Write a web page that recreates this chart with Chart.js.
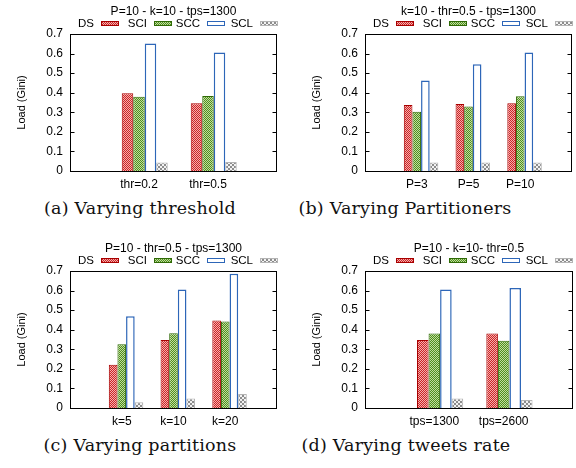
<!DOCTYPE html>
<html><head><meta charset="utf-8">
<script src="https://cdn.jsdelivr.net/npm/chart.js@4.4.0/dist/chart.umd.min.js"></script>
<style>
html,body{margin:0;padding:0;background:#fff;width:576px;height:468px;overflow:hidden;position:relative;}
canvas{position:absolute;}
.cap{position:absolute;font-family:"DejaVu Serif";font-size:17.5px;letter-spacing:0.2px;color:#111;white-space:nowrap;transform:translate(-50%,-50%);}
</style></head><body>
<canvas id="ca" width="288" height="195" style="left:0;top:0"></canvas>
<canvas id="cb" width="288" height="195" style="left:288px;top:0"></canvas>
<canvas id="cc" width="288" height="195" style="left:0;top:237px"></canvas>
<canvas id="cd" width="288" height="195" style="left:288px;top:237px"></canvas>
<div class="cap" style="left:140px;top:208px">(a) Varying threshold</div>
<div class="cap" style="left:405px;top:208px">(b) Varying Partitioners</div>
<div class="cap" style="left:140px;top:445px">(c) Varying partitions</div>
<div class="cap" style="left:406px;top:445px">(d) Varying tweets rate</div>
<script>
// ---- data ----
const legendLabels = ['DS', 'SCI', 'SCC', 'SCL'];
const yTickValues = [0, 0.1, 0.2, 0.3, 0.4, 0.5, 0.6, 0.7];

const titleA = 'P=10 - k=10 - tps=1300';
const categoriesA = ['thr=0.2', 'thr=0.5'];
const dsA  = [0.397, 0.346];
const sciA = [0.380, 0.383];
const sccA = [0.652, 0.606];
const sclA = [0.044, 0.046];

const titleB = 'k=10 - thr=0.5 - tps=1300';
const categoriesB = ['P=3', 'P=5', 'P=10'];
const dsB  = [0.337, 0.342, 0.346];
const sciB = [0.303, 0.329, 0.382];
const sccB = [0.462, 0.545, 0.606];
const sclB = [0.043, 0.044, 0.044];

const titleC = 'P=10 - thr=0.5 - tps=1300';
const categoriesC = ['k=5', 'k=10', 'k=20'];
const dsC  = [0.221, 0.347, 0.447];
const sciC = [0.326, 0.382, 0.442];
const sccC = [0.469, 0.605, 0.686];
const sclC = [0.029, 0.048, 0.071];

const titleD = 'P=10 - k=10- thr=0.5';
const categoriesD = ['tps=1300', 'tps=2600'];
const dsD  = [0.347, 0.381];
const sciD = [0.381, 0.343];
const sccD = [0.605, 0.613];
const sclD = [0.048, 0.041];

// ---- styles ----
Chart.defaults.color = '#000';
Chart.defaults.font.family = '"Liberation Sans", Arial, sans-serif';

function checker(c1, c2, cell) {
  const cv = document.createElement('canvas');
  cv.width = cv.height = cell * 2;
  const g = cv.getContext('2d');
  g.fillStyle = c2; g.fillRect(0, 0, cell * 2, cell * 2);
  g.fillStyle = c1; g.fillRect(0, 0, cell, cell); g.fillRect(cell, cell, cell, cell);
  return g.createPattern(cv, 'repeat');
}
const redFill = checker('#cc2424', '#f4aeae', 1);
const greenFill = checker('#4f8f1c', '#c0dca0', 1);
const grayFill = checker('#8c8c8c', '#f2f2f2', 2);

const seriesStyles = [
  {bg: redFill, border: '#a80000', bw: 1},
  {bg: greenFill, border: '#2f6a06', bw: 1},
  {bg: '#ffffff', border: '#2d66b8', bw: 1.5},
  {bg: grayFill, border: '#b4b4b4', bw: 1}
];

const deco = {
  id: 'deco',
  afterDraw(chart, args, opts) {
    const ctx = chart.ctx;
    const {left, right, top, bottom} = chart.chartArea;
    const y = chart.scales.y;
    ctx.save();
    ctx.strokeStyle = '#000';
    ctx.lineWidth = 1;
    ctx.beginPath();
    const L = Math.round(left) + 0.5, R = Math.round(right) - 0.5;
    y.ticks.forEach(t => {
      const py = Math.round(y.getPixelForValue(t.value)) + 0.5;
      ctx.moveTo(L, py); ctx.lineTo(L + 4, py);
      ctx.moveTo(R, py); ctx.lineTo(R - 4, py);
    });
    ctx.stroke();
    ctx.strokeRect(L, Math.round(top) + 0.5, R - L, Math.round(bottom) - Math.round(top));
    ctx.fillStyle = '#000';
    ctx.textBaseline = 'middle';
    ctx.textAlign = 'center';
    ctx.font = '12px "Liberation Sans", Arial, sans-serif';
    ctx.fillText(opts.title, (left + right) / 2, 12);
    // legend
    ctx.font = '11.5px "Liberation Sans", Arial, sans-serif';
    for (let i = 0; i < legendLabels.length; i++) {
      const tx = left + 24 + 53 * i;
      ctx.textAlign = 'right';
      ctx.fillStyle = '#000';
      ctx.fillText(legendLabels[i], tx, 23.5);
      const ds = chart.data.datasets[i + 1];
      const sx = Math.round(tx + 7), sy = 21;
      ctx.fillStyle = ds.backgroundColor;
      ctx.fillRect(sx, sy, 18, 5);
      ctx.strokeStyle = ds.borderColor;
      ctx.lineWidth = 1;
      ctx.strokeRect(sx + 0.5, sy + 0.5, 17, 4);
    }
    // y label
    ctx.translate(left - 48, (top + bottom) / 2);
    ctx.rotate(-Math.PI / 2);
    ctx.textAlign = 'center';
    ctx.fillStyle = '#000';
    ctx.font = '11px "Liberation Sans", Arial, sans-serif';
    ctx.fillText('Load (Gini)', 0, 0);
    ctx.restore();
  }
};

function pad(a) { return [null, ...a, null]; }

function makeChart(id, title, cats, series, yWidth, rightPad) {
  const datasets = [{label: '', data: pad(cats.map(() => null)), backgroundColor: 'rgba(0,0,0,0)'}];
  series.forEach((s, i) => {
    datasets.push({
      label: legendLabels[i],
      data: pad(s),
      backgroundColor: seriesStyles[i].bg,
      borderColor: seriesStyles[i].border,
      borderWidth: seriesStyles[i].bw
    });
  });
  new Chart(document.getElementById(id), {
    type: 'bar',
    data: {labels: ['', ...cats, ''], datasets},
    options: {
      responsive: false,
      animation: false,
      devicePixelRatio: 1,
      layout: {padding: {left: 0, right: rightPad, top: 34, bottom: 0}},
      datasets: {bar: {categoryPercentage: 5 / 6, barPercentage: 1}},
      plugins: {legend: {display: false}, tooltip: {enabled: false}, deco: {title}},
      scales: {
        x: {
          offset: false,
          grid: {display: false, drawTicks: false},
          border: {display: false},
          ticks: {autoSkip: false, maxRotation: 0, padding: 6, font: {size: 12}},
          afterFit(s) { s.height = 24; s.paddingLeft = 0; s.paddingRight = 0; }
        },
        y: {
          min: 0, max: 0.7,
          grid: {display: false, drawTicks: false},
          border: {display: false},
          afterBuildTicks(s) { s.ticks = yTickValues.map(v => ({value: v})); },
          ticks: {padding: 7, font: {size: 12}},
          afterFit(s) { s.width = yWidth; s.paddingTop = 0; s.paddingBottom = 0; }
        }
      }
    },
    plugins: [deco]
  });
}

makeChart('ca', titleA, categoriesA, [dsA, sciA, sccA, sclA], 70, 11);
makeChart('cb', titleB, categoriesB, [dsB, sciB, sccB, sclB], 77, 4);
makeChart('cc', titleC, categoriesC, [dsC, sciC, sccC, sclC], 70, 11);
makeChart('cd', titleD, categoriesD, [dsD, sciD, sccD, sclD], 77, 3);
</script>
</body></html>
